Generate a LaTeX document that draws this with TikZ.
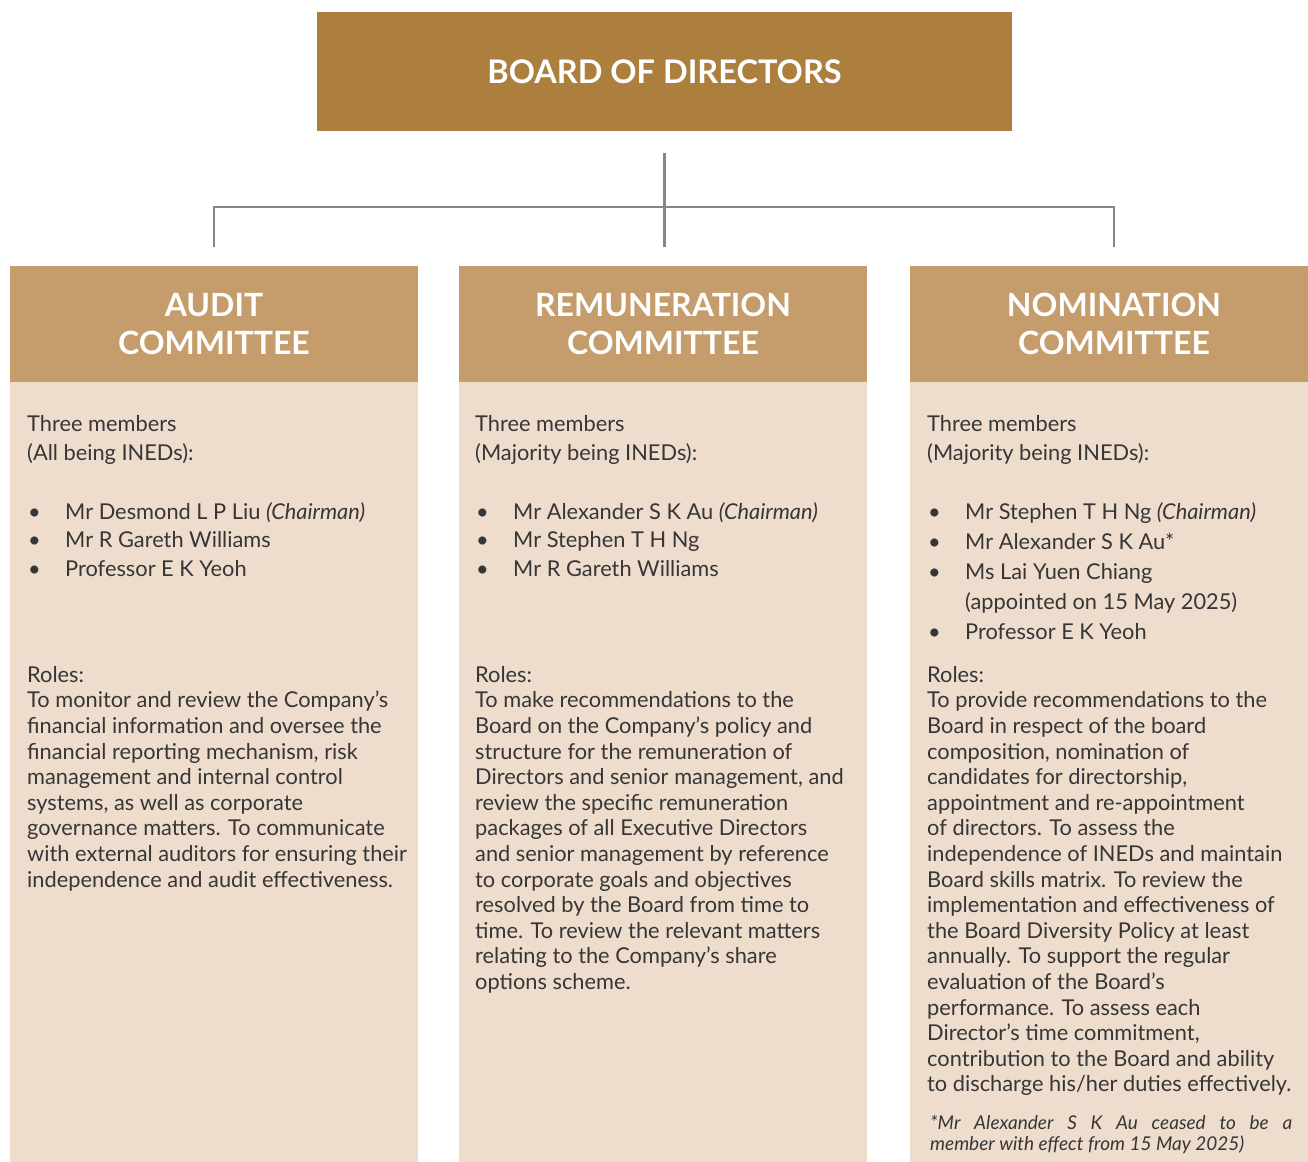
\documentclass[tikz,border=0pt]{standalone}
\usepackage{fontspec}
\setmainfont{Lato}
\definecolor{boardfill}{HTML}{AC7F3F}
\definecolor{headfill}{HTML}{C59D6C}
\definecolor{panelfill}{HTML}{EEDDCD}
\definecolor{linegrey}{HTML}{85868A}
\definecolor{ink}{HTML}{363636}
\newcommand{\hbig}{\fontsize{32.5}{38}\selectfont\bfseries}
\newcommand{\hmid}{\fontsize{32}{38}\selectfont\bfseries}
\newcommand{\fine}{\fontsize{21.8}{25.6}\selectfont}
\newcommand{\roomy}{\fontsize{21.8}{28.8}\selectfont}
\newcommand{\foot}{\fontsize{19}{21}\selectfont\itshape}
\newcommand{\mem}[1]{\makebox[38pt][l]{\hspace{1pt}\textbullet}#1}

\begin{document}
\begin{tikzpicture}[x=1pt,y=-1pt,font=\fine,
  head/.style={fill=headfill,text=white,font=\hmid,align=center,
    minimum width=408pt,minimum height=116pt,inner sep=0},
  panel/.style={fill=panelfill,anchor=north,minimum width=408pt,
    minimum height=780pt,inner sep=0},
  txt/.style={anchor=north west,inner sep=0,align=left,text=ink},
  branch/.style={linegrey,line width=2.4pt}]
\useasboundingbox (0,0) rectangle (1308,1161);
% board and the three committees
\node[fill=boardfill,text=white,font=\hbig,minimum width=695pt,minimum height=119pt,inner sep=0]
  (board) at (664.5,71.5) {BOARD OF DIRECTORS};
\node[head] (audithead) at (214,324) {AUDIT\\COMMITTEE};
\node[head] (remunhead) at (663,324) {REMUNERATION\\COMMITTEE};
\node[head] (nominhead) at (1114,324) {NOMINATION\\COMMITTEE};
\node[panel] (auditbody) at (audithead.south) {};
\node[panel] (remunbody) at (remunhead.south) {};
\node[panel] (nominbody) at (nominhead.south) {};
% reporting lines
\draw[branch] ([yshift=-22pt]board.south) -- ([yshift=19pt]board.south |- remunhead.north);
\draw[branch] ([yshift=19pt]audithead.north) -- ([yshift=59pt]audithead.north)
  -- ([yshift=59pt]nominhead.north) -- ([yshift=19pt]nominhead.north);
% audit committee
\node[txt,font=\roomy] (auditintro) at (27,415) {Three members\\(All being INEDs):};
\node[txt,font=\roomy] (auditmem) at (27,502) {\mem{Mr Desmond L P Liu \textit{(Chairman)}}\\
  \mem{Mr R Gareth Williams}\\\mem{Professor E K Yeoh}};
\node[txt] (auditroles) at (27,666) {Roles:\\
  To monitor and review the Company’s\\
  financial information and oversee the\\
  financial reporting mechanism, risk\\
  management and internal control\\
  systems, as well as corporate\\
  governance matters. To communicate\\
  with external auditors for ensuring their\\
  independence and audit effectiveness.};
% remuneration committee
\node[txt,font=\roomy] (remunintro) at (475,415) {Three members\\(Majority being INEDs):};
\node[txt,font=\roomy] (remunmem) at (475,502) {\mem{Mr Alexander S K Au \textit{(Chairman)}}\\
  \mem{Mr Stephen T H Ng}\\\mem{Mr R Gareth Williams}};
\node[txt] (remunroles) at (475,666) {Roles:\\
  To make recommendations to the\\
  Board on the Company’s policy and\\
  structure for the remuneration of\\
  Directors and senior management, and\\
  review the specific remuneration\\
  packages of all Executive Directors\\
  and senior management by reference\\
  to corporate goals and objectives\\
  resolved by the Board from time to\\
  time. To review the relevant matters\\
  relating to the Company’s share\\
  options scheme.};
% nomination committee
\node[txt,font=\roomy] (nominintro) at (927,415) {Three members\\(Majority being INEDs):};
\node[txt,font=\fontsize{21.8}{30.2}\selectfont] (nominmem) at (927,502) {\mem{Mr Stephen T H Ng \textit{(Chairman)}}\\
  \mem{Mr Alexander S K Au*}\\\mem{Ms Lai Yuen Chiang}\\
  \hspace{38pt}(appointed on 15 May 2025)\\\mem{Professor E K Yeoh}};
\node[txt] (nominroles) at (927,666) {Roles:\\
  To provide recommendations to the\\
  Board in respect of the board\\
  composition, nomination of\\
  candidates for directorship,\\
  appointment and re-appointment\\
  of directors. To assess the\\
  independence of INEDs and maintain\\
  Board skills matrix. To review the\\
  implementation and effectiveness of\\
  the Board Diversity Policy at least\\
  annually. To support the regular\\
  evaluation of the Board’s\\
  performance. To assess each\\
  Director’s time commitment,\\
  contribution to the Board and ability\\
  to discharge his/her duties effectively.};
\node[txt,font=\foot,text width=362pt,align=justify] (nominnote) at (930,1115)
  {*Mr Alexander S K Au ceased to be a\linebreak member with effect from 15 May 2025)};
\end{tikzpicture}
\end{document}
